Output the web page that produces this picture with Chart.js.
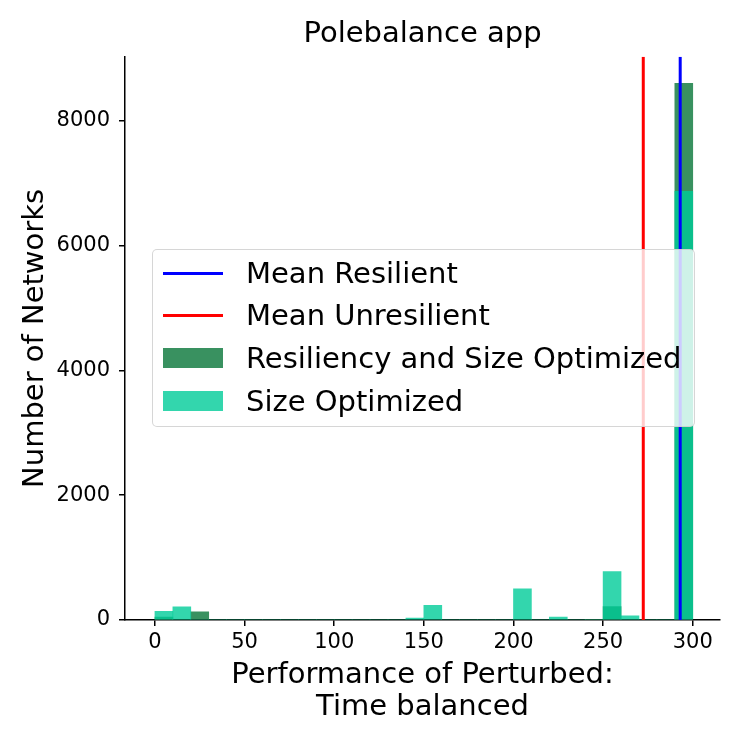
<!DOCTYPE html>
<html>
<head>
<meta charset="utf-8">
<title>Polebalance app</title>
<script src="https://cdn.jsdelivr.net/npm/chart.js@4.4.1/dist/chart.umd.min.js"></script>
<style>
  html, body { margin: 0; padding: 0; background: #fff; }
  .wrap { position: relative; width: 747px; height: 747px; }
  .legend {
    position: absolute; left: 152px; top: 249px; width: 541px; height: 176px;
    background: rgba(255, 255, 255, 0.8);
    border: 1px solid rgba(204, 204, 204, 0.8);
    border-radius: 5px;
    font-family: 'DejaVu Sans', sans-serif; font-size: 29px; color: #000;
  }
  .legend .row { position: absolute; left: 0; height: 43px; line-height: 43px; white-space: nowrap; }
  .legend .handle { position: absolute; left: 10px; width: 60px; }
  .legend .label { position: absolute; left: 93px; top: 0; }
</style>
</head>
<body>
<div class="wrap">
  <canvas id="chart" width="747" height="747"></canvas>
  <div class="legend" id="legend"></div>
</div>
<script>
// histogram bins (centre of each 10-wide bin)
const binCenters = [5, 15, 25, 35, 45, 55, 65, 75, 85, 95,
                    105, 115, 125, 135, 145, 155, 165, 175, 185, 195,
                    205, 215, 225, 235, 245, 255, 265, 275, 285, 295];
const sizeOptimized = [140, 210, 0, 0, 0, 0, 0, 0, 0, 0,
                       0, 0, 0, 0, 30, 236, 0, 0, 0, 0,
                       500, 0, 45, 0, 0, 775, 65, 0, 0, 6870];
const resilSizeOptimized = [45, 0, 130, 0, 0, 0, 0, 0, 0, 0,
                            0, 0, 0, 0, 0, 0, 0, 0, 0, 0,
                            0, 0, 0, 0, 12, 215, 0, 0, 0, 8600];
const meanResilient = 293.0;
const meanUnresilient = 272.4;
const xTicks = [0, 50, 100, 150, 200, 250, 300];
const yTicks = [0, 2000, 4000, 6000, 8000];
const xMin = -16.7, xMax = 315.2, yMax = 9026;

Chart.defaults.font.family = "'DejaVu Sans', sans-serif";
Chart.defaults.color = '#000';

function toPoints(xs, ys) {
    return xs.map((x, i) => ({ x: x, y: ys[i] }));
}

function vline(x) {
    return [{ x: x, y: 0 }, { x: x, y: yMax }];
}

const datasets = [
    {
        type: 'line', label: 'Mean Resilient', data: vline(meanResilient),
        borderColor: '#0000ff', borderWidth: 3, pointRadius: 0, order: 0
    },
    {
        type: 'line', label: 'Mean Unresilient', data: vline(meanUnresilient),
        borderColor: '#ff0000', borderWidth: 3, pointRadius: 0, order: 0
    },
    {
        type: 'bar', label: 'Resiliency and Size Optimized',
        data: toPoints(binCenters, resilSizeOptimized),
        backgroundColor: 'rgba(46, 139, 87, 0.95)', order: 2
    },
    {
        type: 'bar', label: 'Size Optimized',
        data: toPoints(binCenters, sizeOptimized),
        backgroundColor: 'rgba(0, 204, 153, 0.8)', order: 1
    }
];

const chart = new Chart(document.getElementById('chart'), {
    type: 'bar',
    data: { datasets: datasets },
    options: {
        responsive: false,
        animation: false,
        layout: { padding: { left: 0, right: 27, top: 0, bottom: 0 } },
        datasets: {
            bar: { grouped: false, barPercentage: 1, categoryPercentage: 1 }
        },
        plugins: {
            legend: { display: false },
            tooltip: { enabled: false },
            title: {
                display: true, fullSize: false,
                text: 'Polebalance app',
                font: { size: 29, weight: 'normal', lineHeight: 1.2 },
                padding: { top: 17, bottom: 5 }
            }
        },
        scales: {
            x: {
                type: 'linear', min: xMin, max: xMax, offset: false,
                afterBuildTicks: s => { s.ticks = xTicks.map(v => ({ value: v })); },
                afterFit: s => { s.height = 127; },
                ticks: { font: { size: 21 }, padding: 4, maxRotation: 0, callback: v => String(v) },
                grid: { offset: false, drawOnChartArea: false, drawTicks: true, tickLength: 6, color: '#000', lineWidth: 1.5 },
                border: { display: true, color: '#000', width: 1.5 },
                title: {
                    display: true,
                    text: ['Performance of Perturbed:', 'Time balanced'],
                    font: { size: 29, lineHeight: 1.103 },
                    padding: { top: 0, bottom: 24 }
                }
            },
            y: {
                type: 'linear', min: 0, max: yMax,
                afterBuildTicks: s => { s.ticks = yTicks.map(v => ({ value: v })); },
                afterFit: s => { s.width = 125; },
                ticks: { font: { size: 21 }, padding: 9, callback: v => String(v) },
                grid: { drawOnChartArea: false, drawTicks: true, tickLength: 6, color: '#000', lineWidth: 1.5 },
                border: { display: true, color: '#000', width: 1.5 },
                title: {
                    display: true, text: 'Number of Networks',
                    font: { size: 29, lineHeight: 1.2 },
                    padding: { top: 18.5, bottom: 0 }
                }
            }
        }
    }
});

// legend box drawn over the plot, built from the datasets
const legend = document.getElementById('legend');
const rowCenters = [23, 65, 108, 151];
chart.data.datasets.forEach((ds, i) => {
    const row = document.createElement('div');
    row.className = 'row';
    row.style.top = (rowCenters[i] - 21.5) + 'px';
    row.style.width = '100%';
    const h = document.createElement('div');
    h.className = 'handle';
    if (ds.type === 'line') {
        h.style.height = '3px';
        h.style.top = '20px';
        h.style.background = ds.borderColor;
    } else {
        h.style.height = '20px';
        h.style.top = '11px';
        h.style.background = ds.backgroundColor;
    }
    const t = document.createElement('span');
    t.className = 'label';
    t.textContent = ds.label;
    row.appendChild(h);
    row.appendChild(t);
    legend.appendChild(row);
});
</script>
</body>
</html>
